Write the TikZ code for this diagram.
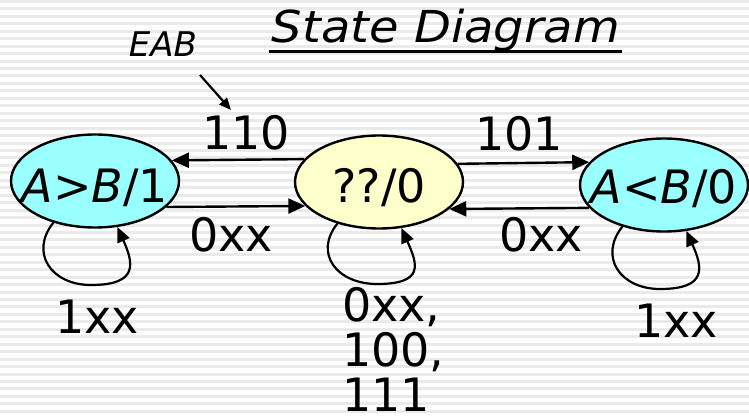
\documentclass[tikz,border=0pt]{standalone}
\usepackage{fontspec}
\setmainfont{DejaVu Sans}
\usetikzlibrary{arrows.meta,calc,shapes.geometric}
\definecolor{stripegray}{HTML}{EAEAEA}
\definecolor{statecyan}{HTML}{99FFFF}
\definecolor{stateyellow}{HTML}{FFFFCC}

\begin{document}
\begin{tikzpicture}[x=1pt,y=-1pt,
  state/.style={ellipse, draw=black, line width=2.4pt, minimum width=168pt,
    minimum height=93pt, inner sep=0pt},
  lbl/.style={inner sep=0pt, font=\fontsize{46}{46}\selectfont},
  arr/.style={line width=2.4pt, -{Triangle[length=17pt,width=15pt]}},
  loopline/.style={line width=2.2pt, -{Triangle[length=15pt,width=13pt]}}]
  % page and striped background
  \useasboundingbox (0,0) rectangle (749,417);
  \fill[white] (0,0) rectangle (749,417);
  \foreach \i in {0,...,56}
    \fill[stripegray] (0,\i*7.45) rectangle (749,\i*7.45+3);

  % title
  \node[anchor=base, inner sep=0pt, font=\fontsize{44}{44}\selectfont\itshape]
    (title) at (446,43) {\scalebox{1.09}[1]{State Diagram}};
  \draw[line width=3pt] ($(title.base west)+(-3,9)$) -- ($(title.base east)+(2,9)$);

  % states
  \node[state, fill=statecyan] (L) at (95,181) {};
  \node[state, fill=stateyellow] (M) at (379,182) {};
  \node[state, fill=statecyan] (R) at (664,185) {};
  \node[lbl, anchor=base] (Lt) at ($(L)+(0,21)$) {\textit{A}>\textit{B}/1};
  \node[lbl, anchor=base] (Mt) at ($(M)+(0,20)$) {??/0};
  \node[lbl, anchor=base] (Rt) at ($(R)+(0,18)$) {\textit{A}<\textit{B}/0};

  % transitions between states
  \draw[arr] (M.163.4) -- (L.15.7);
  \draw[arr] (L.340.5) -- (M.198.5);
  \draw[arr] (M.13.9) -- (R.163.4);
  \draw[arr] (R.197.5) -- (M.339.5);
  \node[lbl, anchor=base] (t110) at (246,149) {110};
  \node[lbl, anchor=base] (t0xxL) at (231,251) {0xx};
  \node[lbl, anchor=base] (t101) at (519,150) {101};
  \node[lbl, anchor=base] (t0xxR) at (541,251) {0xx};

  % self loops
  \draw[loopline] (L.225) .. controls +(-24,30) and +(-40,0) .. ($(L)+(-4,104)$)
    .. controls +(48,0) and +(16,36) .. (L.296);
  \draw[loopline] (M.225) .. controls +(-24,30) and +(-40,0) .. ($(M)+(-2,102)$)
    .. controls +(48,0) and +(16,36) .. (M.296);
  \draw[loopline] (R.225) .. controls +(-24,30) and +(-40,0) .. ($(R)+(-4,104)$)
    .. controls +(48,0) and +(16,36) .. (R.296);
  \node[lbl, anchor=base] (s1xxL) at (97,333) {1xx};
  \node[lbl, anchor=base west, align=left, font=\fontsize{46}{45}\selectfont]
    (s0xxM) at (342,411) {0xx,\\100,\\111};
  \node[lbl, anchor=base] (s1xxR) at (676,337) {1xx};

  % input-order annotation
  \node[anchor=base, inner sep=0pt, font=\fontsize{34}{34}\selectfont\itshape]
    (eab) at (163,57) {EAB};
  \coordinate (eabfrom) at (200,75);
  \coordinate (eabto) at (231,110);
  \draw[line width=2.2pt, -{Triangle[length=12pt,width=10pt]}] (eabfrom) -- (eabto);
\end{tikzpicture}
\end{document}
